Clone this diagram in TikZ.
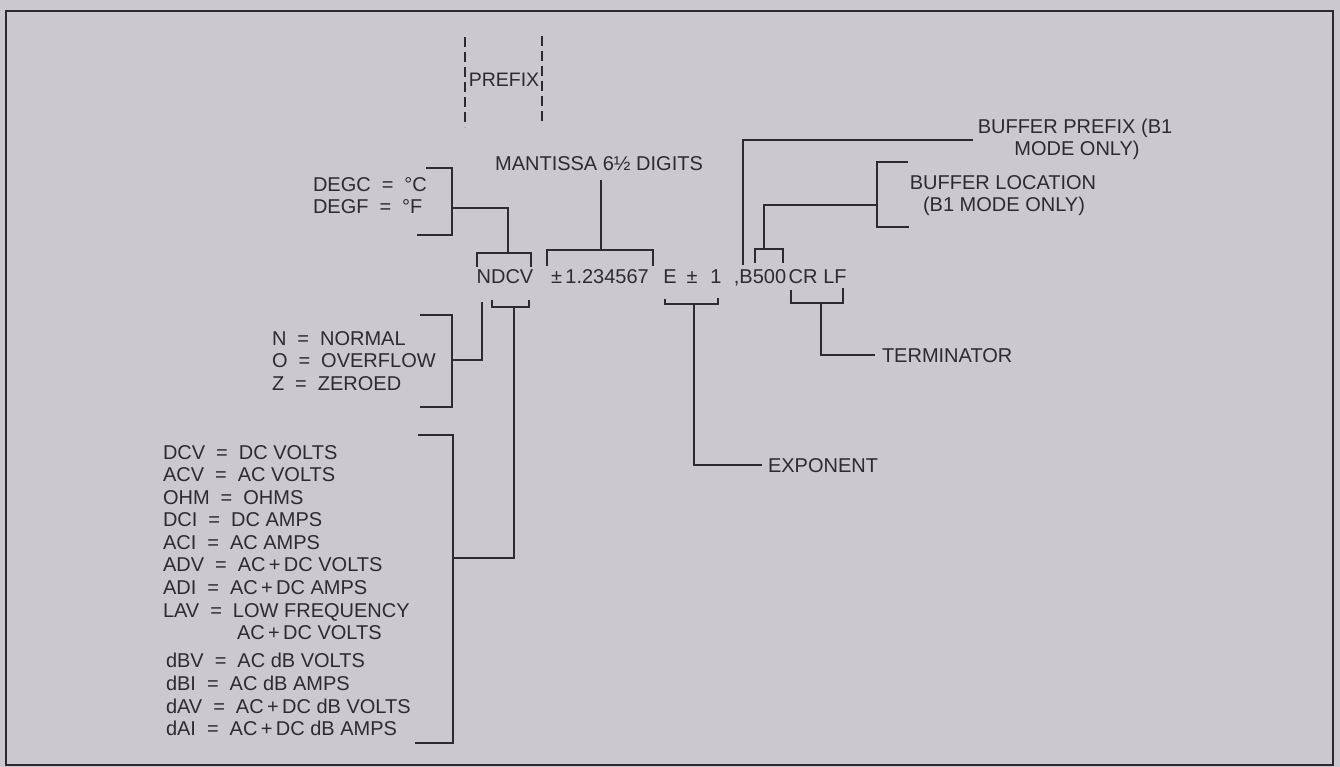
\documentclass[tikz,border=0pt]{standalone}
\usepackage{fontspec}
\setmainfont{Liberation Sans}
\definecolor{bg}{RGB}{203,200,206}
\definecolor{ink}{RGB}{45,43,50}
\newcommand{\eqq}{\hspace{0.55em}=\hspace{0.55em}}
\tikzset{
  ln/.style={draw=ink, line width=1.7pt, line join=miter},
  dashln/.style={draw=ink, line width=1.4pt, dash pattern=on 10pt off 5pt},
  lbl/.style={inner sep=0pt, outer sep=0pt, text=ink, font=\fontsize{20}{22.5}\selectfont},
  lw/.style={lbl, anchor=base west},
  lc/.style={lbl, anchor=base},
}
\begin{document}
\begin{tikzpicture}[x=1pt,y=-1pt]
\useasboundingbox (0,0) rectangle (1340,767);
\fill[bg] (0,0) rectangle (1340,767);
\draw[ln, line width=2pt] (6,11) rectangle (1333,765);

% prefix
\node[lc, font=\fontsize{19.5}{22}\selectfont] (prefix) at (504,87) {PREFIX};
\draw[dashln] (465,37) -- (465,127);
\draw[dashln] (542,36) -- (542,124);

% main row
\node[lc] (ndcv) at (505,283) {NDCV};
\node[lc] (mval) at (600,283) {±\,1.234567};
\node[lc] (expE) at (670,283) {E};
\node[lc] (expS) at (692,283) {±};
\node[lc] (expN) at (716,283) {1};
\node[lc] (buf) at (760,283) {,B500};
\node[lc] (cr) at (803,283) {CR};
\node[lc] (lf) at (835,283) {LF};

% labels
\node[lc] (mant) at (599,171) {MANTISSA 6½ DIGITS};
\node[lw] (degc) at (313,192) {DEGC\eqq °C};
\node[lw] (degf) at (313,214) {DEGF\eqq °F};
\node[lw] (nn) at (272,345) {N\eqq NORMAL};
\node[lw] (no) at (272,367) {O\eqq OVERFLOW};
\node[lw] (nz) at (272,390) {Z\eqq ZEROED};

\node[lw] (f1) at (163,459) {DCV\eqq DC VOLTS};
\node[lw] (f2) at (163,481) {ACV\eqq AC VOLTS};
\node[lw] (f3) at (163,504) {OHM\eqq OHMS};
\node[lw] (f4) at (163,526) {DCI\eqq DC AMPS};
\node[lw] (f5) at (163,549) {ACI\eqq AC AMPS};
\node[lw] (f6) at (163,571) {ADV\eqq AC\,+\,DC VOLTS};
\node[lw] (f7) at (163,594) {ADI\eqq AC\,+\,DC AMPS};
\node[lw] (f8) at (163,617) {LAV\eqq LOW FREQUENCY};
\node[lw] (f8b) at (237,639) {AC\,+\,DC VOLTS};
\node[lw] (f9) at (166,667) {dBV\eqq AC dB VOLTS};
\node[lw] (f10) at (166,690) {dBI\eqq AC dB AMPS};
\node[lw] (f11) at (166,713) {dAV\eqq AC\,+\,DC dB VOLTS};
\node[lw] (f12) at (166,735) {dAI\eqq AC\,+\,DC dB AMPS};

\node[lc] (bp1) at (1075,134) {BUFFER PREFIX (B1};
\node[lc] (bp2) at (1077,156) {MODE ONLY)};
\node[lc] (bl1) at (1003,190) {BUFFER LOCATION};
\node[lc] (bl2) at (1004,212) {(B1 MODE ONLY)};
\node[lw] (term) at (882,362) {TERMINATOR};
\node[lw] (expo) at (768,472) {EXPONENT};

% coordinates
\coordinate (degJ) at (452,208);
\coordinate (ndcvTop) at (508,253);
\coordinate (mantTop) at (601,180);
\coordinate (mantJ) at (601,250);
\coordinate (nJ) at (452,360);
\coordinate (nTop) at (482,302);
\coordinate (fJ) at (453,558);
\coordinate (fTop) at (514,307);
\coordinate (eJ) at (694,304);
\coordinate (eEnd) at (762,465);
\coordinate (tJ) at (821,303);
\coordinate (tEnd) at (875,355);
\coordinate (bpBot) at (743,265);
\coordinate (bpEnd) at (973,140);
\coordinate (blJ) at (877,205);
\coordinate (blBot) at (764,249);

% DEGC bracket
\draw[ln] (426,168) -- (452,168) -- (452,235) -- (417,235);
\draw[ln] (degJ) -| (ndcvTop);
\draw[ln] (477,267) -- (477,253) -- (531,253) -- (531,267);

% mantissa
\draw[ln] (547,266) -- (547,250) -- (653,250) -- (653,266);
\draw[ln] (mantTop) -- (mantJ);

% N bracket
\draw[ln] (420,315) -- (452,315) -- (452,407) -- (420,407);
\draw[ln] (nTop) |- (nJ);

% function bracket
\draw[ln] (492,300) -- (492,307) -- (529,307) -- (529,300);
\draw[ln] (418,435) -- (453,435) -- (453,743) -- (415,743);
\draw[ln] (fTop) |- (fJ);

% exponent
\draw[ln] (665,299) -- (665,304) -- (718,304) -- (718,298);
\draw[ln] (eJ) |- (eEnd);

% terminator
\draw[ln] (791,290) -- (791,303) -- (843,303) -- (843,288);
\draw[ln] (tJ) |- (tEnd);

% buffer prefix
\draw[ln] (bpBot) |- (bpEnd);

% buffer location
\draw[ln] (908,162) -- (877,162) -- (877,227) -- (909,227);
\draw[ln] (blJ) -| (blBot);
\draw[ln] (755,263) -- (755,249) -- (783,249) -- (783,263);
\end{tikzpicture}
\end{document}
